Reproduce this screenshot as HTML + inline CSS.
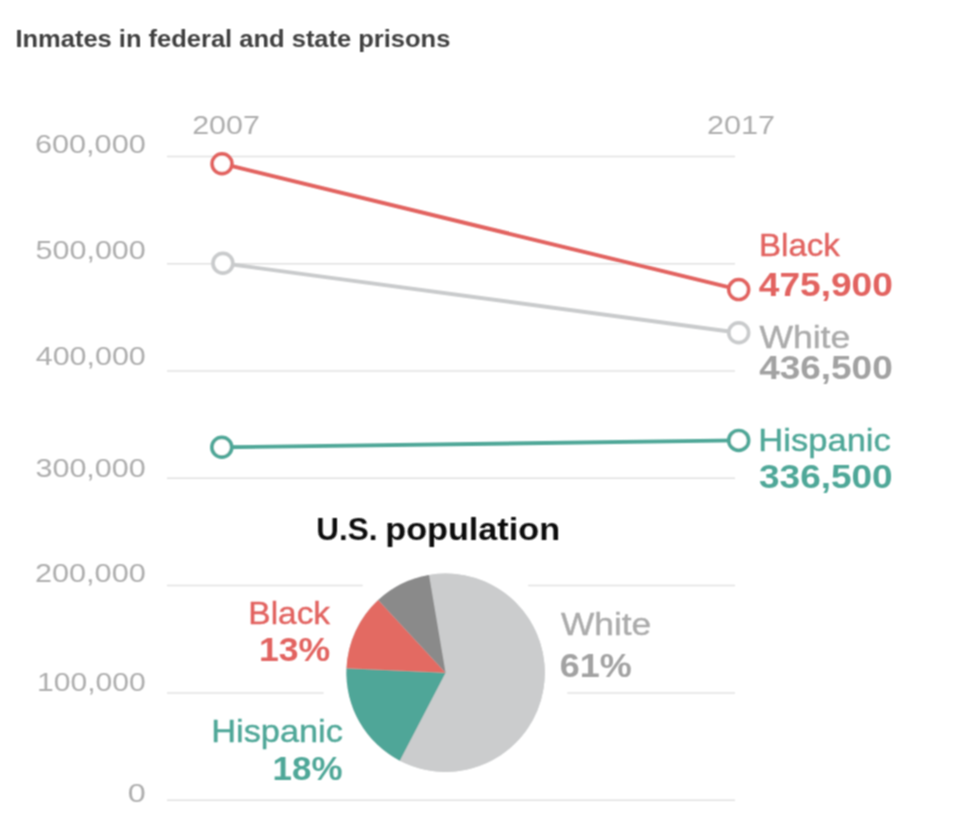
<!DOCTYPE html>
<html lang="en"><head><meta charset="utf-8"><title>Inmates in federal and state prisons</title>
<style>
html,body{margin:0;padding:0;background:#fff;}
svg{display:block;font-family:"Liberation Sans",Arial,Helvetica,sans-serif;}
.b{font-weight:bold;}
</style></head><body>
<svg width="954" height="832" viewBox="0 0 954 832">
<defs><filter id="soft" x="0" y="0" width="954" height="832" filterUnits="userSpaceOnUse"><feConvolveMatrix order="3" kernelMatrix="1 2 1 2 4 2 1 2 1" divisor="16" edgeMode="duplicate" preserveAlpha="false"/></filter></defs>
<rect width="954" height="832" fill="#fff"/>
<g filter="url(#soft)">
<line x1="167" x2="735" y1="156.50" y2="156.50" stroke="#e2e2e2" stroke-width="1.5"/>
<line x1="167" x2="735" y1="263.78" y2="263.78" stroke="#e2e2e2" stroke-width="1.5"/>
<line x1="167" x2="735" y1="371.06" y2="371.06" stroke="#e2e2e2" stroke-width="1.5"/>
<line x1="167" x2="735" y1="478.34" y2="478.34" stroke="#e2e2e2" stroke-width="1.5"/>
<line x1="167" x2="362.7" y1="585.62" y2="585.62" stroke="#e2e2e2" stroke-width="1.5"/>
<line x1="528.2" x2="735" y1="585.62" y2="585.62" stroke="#e2e2e2" stroke-width="1.5"/>
<line x1="167" x2="323.6" y1="692.90" y2="692.90" stroke="#e2e2e2" stroke-width="1.5"/>
<line x1="567.3" x2="735" y1="692.90" y2="692.90" stroke="#e2e2e2" stroke-width="1.5"/>
<line x1="167" x2="735" y1="800.18" y2="800.18" stroke="#e2e2e2" stroke-width="1.5"/>
<line x1="222.9" y1="263.3" x2="738.7" y2="332.7" stroke="#c9cbcc" stroke-width="3.9"/>
<circle cx="222.9" cy="263.3" r="9.9" fill="#fff" stroke="#c9cbcc" stroke-width="3.7"/>
<circle cx="738.7" cy="332.7" r="9.9" fill="#fff" stroke="#c9cbcc" stroke-width="3.7"/>
<line x1="222" y1="163.7" x2="738.7" y2="289.6" stroke="#e26360" stroke-width="3.9"/>
<circle cx="222" cy="163.7" r="9.9" fill="#fff" stroke="#e26360" stroke-width="3.7"/>
<circle cx="738.7" cy="289.6" r="9.9" fill="#fff" stroke="#e26360" stroke-width="3.7"/>
<line x1="221.8" y1="447.3" x2="738.7" y2="440.4" stroke="#4fa798" stroke-width="3.9"/>
<circle cx="221.8" cy="447.3" r="9.9" fill="#fff" stroke="#4fa798" stroke-width="3.7"/>
<circle cx="738.7" cy="440.4" r="9.9" fill="#fff" stroke="#4fa798" stroke-width="3.7"/>
<circle cx="445.6" cy="672.7" r="99.2" fill="#cbcccd"/>
<path d="M445.6,672.7 L429.06,574.89 A99.2,99.2 0 1 1 399.79,760.69 Z" fill="#cbcccd"/>
<path d="M445.6,672.7 L399.79,760.69 A99.2,99.2 0 0 1 346.50,668.20 Z" fill="#50a698"/>
<path d="M445.6,672.7 L346.50,668.20 A99.2,99.2 0 0 1 378.20,599.91 Z" fill="#e36a62"/>
<path d="M445.6,672.7 L378.20,599.91 A99.2,99.2 0 0 1 429.06,574.89 Z" fill="#8a8a8a"/>
<text x="15.44" y="46.5" font-size="23" fill="#3f3f3f" class="b" textLength="434.95" lengthAdjust="spacingAndGlyphs">Inmates in federal and state prisons</text>
<text x="192.17" y="133.6" font-size="25.8" fill="#aeaeae" textLength="67.66" lengthAdjust="spacingAndGlyphs">2007</text>
<text x="706.97" y="133.8" font-size="25.8" fill="#aeaeae" textLength="68.07" lengthAdjust="spacingAndGlyphs">2017</text>
<text x="34.96" y="153.3" font-size="25.8" fill="#aeaeae" textLength="110.80" lengthAdjust="spacingAndGlyphs">600,000</text>
<text x="35.55" y="259.3" font-size="25.8" fill="#aeaeae" textLength="110.21" lengthAdjust="spacingAndGlyphs">500,000</text>
<text x="35.72" y="365" font-size="25.8" fill="#aeaeae" textLength="110.03" lengthAdjust="spacingAndGlyphs">400,000</text>
<text x="35.45" y="476.5" font-size="25.8" fill="#aeaeae" textLength="110.31" lengthAdjust="spacingAndGlyphs">300,000</text>
<text x="34.96" y="582.2" font-size="25.8" fill="#aeaeae" textLength="110.80" lengthAdjust="spacingAndGlyphs">200,000</text>
<text x="37.12" y="691" font-size="25.8" fill="#aeaeae" textLength="108.63" lengthAdjust="spacingAndGlyphs">100,000</text>
<text x="127.79" y="802.4" font-size="25.8" fill="#aeaeae" textLength="18.02" lengthAdjust="spacingAndGlyphs">0</text>
<text x="759.02" y="255.9" font-size="31.5" fill="#e26360" stroke="#e26360" stroke-width="0.4" textLength="80.87" lengthAdjust="spacingAndGlyphs">Black</text>
<text x="758.80" y="296" font-size="32.8" fill="#e26360" class="b" textLength="134.10" lengthAdjust="spacingAndGlyphs">475,900</text>
<text x="759.40" y="347.5" font-size="31.5" fill="#ababab" stroke="#ababab" stroke-width="0.4" textLength="90.84" lengthAdjust="spacingAndGlyphs">White</text>
<text x="759.20" y="378.7" font-size="32.8" fill="#a2a2a2" class="b" textLength="133.50" lengthAdjust="spacingAndGlyphs">436,500</text>
<text x="758.30" y="450.7" font-size="31.5" fill="#4fa798" stroke="#4fa798" stroke-width="0.4" textLength="132.54" lengthAdjust="spacingAndGlyphs">Hispanic</text>
<text x="759.02" y="487.6" font-size="32.8" fill="#4fa798" class="b" textLength="133.68" lengthAdjust="spacingAndGlyphs">336,500</text>
<text x="316.33" y="540.3" font-size="31.5" fill="#111" class="b" textLength="61.02" lengthAdjust="spacingAndGlyphs">U.S.</text>
<text x="385.26" y="540.3" font-size="31.5" fill="#111" class="b" textLength="174.79" lengthAdjust="spacingAndGlyphs">population</text>
<text x="248.39" y="624" font-size="31.5" fill="#e26360" stroke="#e26360" stroke-width="0.4" textLength="81.69" lengthAdjust="spacingAndGlyphs">Black</text>
<text x="258.97" y="660.5" font-size="32.8" fill="#e26360" class="b" textLength="71.33" lengthAdjust="spacingAndGlyphs">13%</text>
<text x="211.32" y="741.6" font-size="31.5" fill="#4fa798" stroke="#4fa798" stroke-width="0.4" textLength="131.52" lengthAdjust="spacingAndGlyphs">Hispanic</text>
<text x="272.62" y="780" font-size="32.8" fill="#4fa798" class="b" textLength="69.88" lengthAdjust="spacingAndGlyphs">18%</text>
<text x="561.00" y="635.2" font-size="31.5" fill="#ababab" stroke="#ababab" stroke-width="0.4" textLength="90.23" lengthAdjust="spacingAndGlyphs">White</text>
<text x="559.88" y="676.8" font-size="32.8" fill="#a2a2a2" class="b" textLength="71.93" lengthAdjust="spacingAndGlyphs">61%</text>
</g></svg></body></html>
